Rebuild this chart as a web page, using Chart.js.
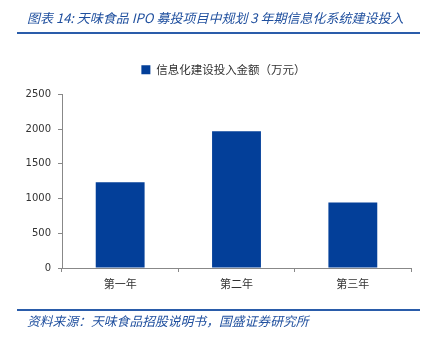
<!DOCTYPE html>
<html>
<head>
<meta charset="utf-8">
<script src="https://cdn.jsdelivr.net/npm/chart.js@4"></script>
<style>
    body { margin: 0; background: #fff; }
    #wrap { position: relative; width: 428px; height: 342px; overflow: hidden; }
    #chart { position: absolute; left: 0; top: 0; }
    .title {
        position: absolute; left: 27px; top: 8px;
        font: italic 13px "Noto Sans CJK SC", sans-serif;
        color: #1f4f9e; white-space: nowrap;
    }
    .rule { position: absolute; left: 17px; width: 403px; height: 2px; background: #2a5caa; }
    .source {
        position: absolute; left: 27px; top: 311px;
        font: italic 12.8px "Noto Sans CJK SC", sans-serif;
        color: #1f4f9e; white-space: nowrap;
    }
</style>
</head>
<body>
<div id="wrap">
    <canvas id="chart" width="428" height="342"></canvas>
    <div class="title">图表 14:  天味食品 IPO 募投项目中规划 3 年期信息化系统建设投入</div>
    <div class="rule" style="top:32px"></div>
    <div class="rule" style="top:309px"></div>
    <div class="source">资料来源：天味食品招股说明书，国盛证券研究所</div>
</div>
<script>
// data
const years = ["第一年", "第二年", "第三年"];
const invest = [1235, 1970, 945];
const seriesName = "信息化建设投入金额（万元）";
const yMax = 2500;
const yStep = 500;

// legend: a bit more room below it, and nudged right like the original
const legendTweak = {
    id: "legendTweak",
    beforeLayout(chart) {
        const lg = chart.legend;
        if (lg && !lg._tweaked) {
            const fit = lg.fit.bind(lg);
            lg.fit = function () { fit(); this.height += 9; };
            lg._tweaked = true;
        }
    },
    afterLayout(chart) {
        chart.legend.left += 18;
        chart.legend.right += 18;
    }
};

new Chart(document.getElementById("chart"), {
    type: "bar",
    data: {
        labels: years,
        datasets: [{
            label: seriesName,
            data: invest,
            backgroundColor: "#033f99",
            barPercentage: 0.42,
            categoryPercentage: 1
        }]
    },
    options: {
        responsive: false,
        animation: false,
        layout: { padding: { left: 0, right: 17, top: 54, bottom: 0 } },
        plugins: {
            tooltip: { enabled: false },
            legend: {
                labels: {
                    boxWidth: 9, boxHeight: 9, padding: 10,
                    color: "#333",
                    font: { family: "'Noto Sans CJK SC'", size: 11.5 }
                }
            }
        },
        scales: {
            x: {
                afterFit: s => { s.height = 74; },
                grid: { offset: true, drawOnChartArea: false, tickLength: 4, color: "#888" },
                border: { color: "#888" },
                ticks: { color: "#333", padding: 5, font: { family: "'Noto Sans CJK SC'", size: 11 } }
            },
            y: {
                min: 0, max: yMax,
                afterFit: s => { s.width = 62; },
                grid: { drawOnChartArea: false, tickLength: 4, color: "#888" },
                border: { color: "#888" },
                ticks: {
                    stepSize: yStep, color: "#333", padding: 7,
                    font: { family: "'DejaVu Sans'", size: 10 },
                    callback: v => String(v)
                }
            }
        }
    },
    plugins: [legendTweak]
});
</script>
</body>
</html>
